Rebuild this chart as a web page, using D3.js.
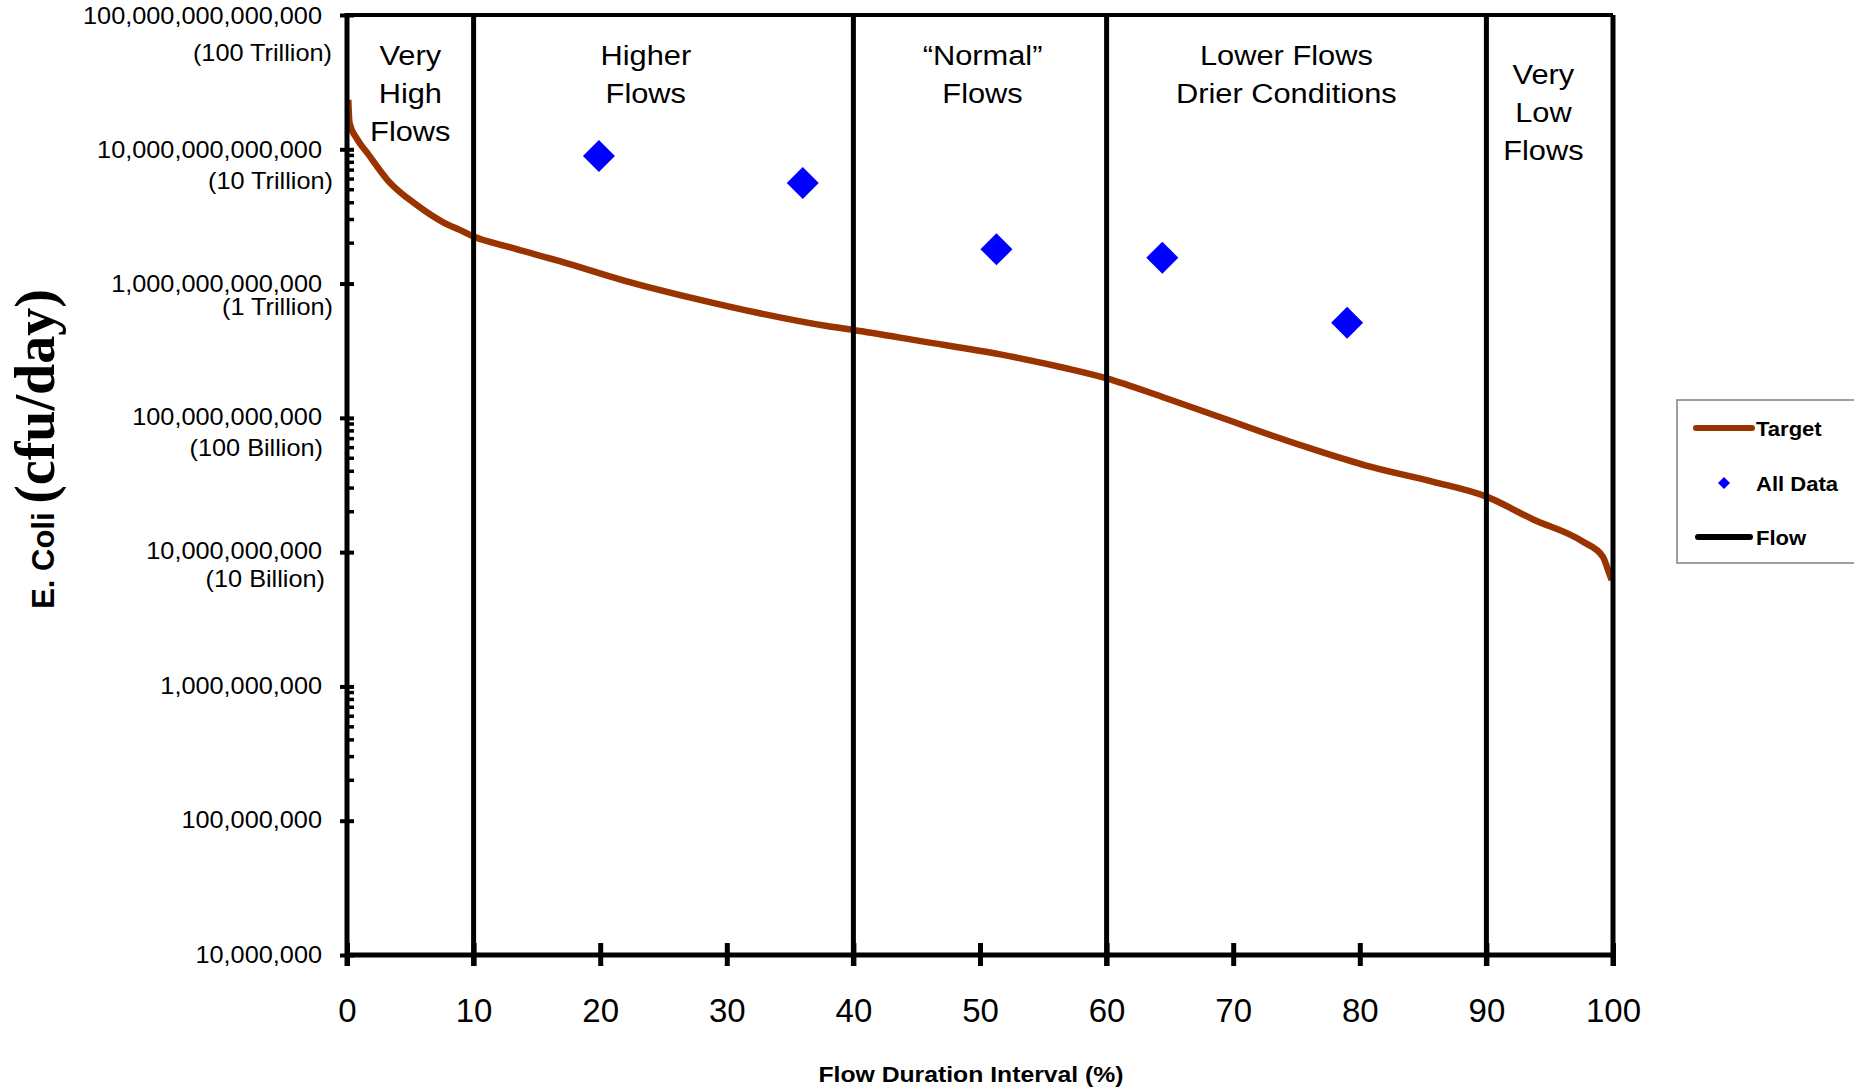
<!DOCTYPE html>
<html><head><meta charset="utf-8">
<script src="https://cdn.jsdelivr.net/npm/d3@7"></script>
<style>body{margin:0;background:#fff}svg{display:block}</style>
</head><body>
<svg id="chart" width="1854" height="1088"></svg>
<script>
// ---------------- DATA ----------------
const flowPct = [0.1, 0.2, 0.8, 1.6, 3.2, 5.5, 7.6, 8.9, 10, 12.9, 16.8, 22.1, 27.4, 32.6, 37.9, 40, 45.3, 51.6, 56.8, 60, 64.7, 70, 72.6, 76.9, 80.5, 85.8, 90, 93.7, 97.6, 99.2, 99.7, 99.9];
const targetLoad = [2.33e13, 1.57e13, 1.19e13, 9.4e12, 5.9e12, 3.85e12, 2.86e12, 2.51e12, 2.24e12, 1.86e12, 1.47e12, 1.04e12, 7.76e11, 6.01e11, 4.83e11, 4.51e11, 3.73e11, 2.97e11, 2.34e11, 1.97e11, 1.4e11, 9.35e10, 7.64e10, 5.6e10, 4.41e10, 3.34e10, 2.59e10, 1.75e10, 1.2e10, 9.25e9, 6.95e9, 6.2e9];
const dataPct = [19.9, 36.0, 51.3, 64.4, 79.0];
const dataLoad = [8.9e12, 5.6e12, 1.8e12, 1.56e12, 5.1e11];
const xTickValues = [0, 10, 20, 30, 40, 50, 60, 70, 80, 90, 100];
const zoneBounds = [10, 40, 60, 90, 100];
const zoneLabels = [["Very", "High", "Flows"], ["Higher", "Flows"], ["\u201CNormal\u201D", "Flows"], ["Lower Flows", "Drier Conditions"], ["Very", "Low", "Flows"]];
const zoneLabelPct = [5, 23.6, 50.2, 74.2, 94.5];
const yTickValues = [1e7, 1e8, 1e9, 1e10, 1e11, 1e12, 1e13, 1e14];
const yTickLabels = ["10,000,000", "100,000,000", "1,000,000,000", "10,000,000,000", "100,000,000,000", "1,000,000,000,000", "10,000,000,000,000", "100,000,000,000,000"];
const ySubLabels = ["", "", "", "(10 Billion)", "(100 Billion)", "(1 Trillion)", "(10 Trillion)", "(100 Trillion)"];
const minorDecades = [1e8, 1e10, 1e12];
const legendLabels = ["Target", "All Data", "Flow"];

// ---------------- LAYOUT ----------------
const L = 347, R = 1613, T = 15, B = 955;
const svg = d3.select("#chart");
const x = d3.scaleLinear().domain([0, 100]).range([L, R]);
const y = d3.scaleLog().domain([1e7, 1e14]).range([B, T]);
const SX = 1.1; // horizontal stretch of text in reference
const sans = "Arial, 'Liberation Sans', Helvetica, sans-serif";
const serif = "'Times New Roman', 'Liberation Serif', serif";

// Target curve
const curve = flowPct.map((p, i) => [p, targetLoad[i]]);
svg.append("path").datum(curve)
  .attr("fill", "none").attr("stroke", "#993300").attr("stroke-width", 6.5)
  .attr("stroke-linejoin", "round")
  .attr("d", d3.line().x(d => x(d[0])).y(d => y(d[1])).curve(d3.curveMonotoneX));

// Top border
svg.append("line").attr("x1", x(0)).attr("x2", x(100)).attr("y1", y(1e14)).attr("y2", y(1e14))
  .attr("stroke", "#000").attr("stroke-width", 4);

// Zone (flow) lines
svg.selectAll("line.zone").data(zoneBounds).enter().append("line").attr("class", "zone")
  .attr("x1", d => x(d)).attr("x2", d => x(d)).attr("y1", y(1e14)).attr("y2", B + 11)
  .attr("stroke", "#000").attr("stroke-width", 5);

// X axis
const xAxis = d3.axisBottom(x).tickValues(xTickValues).tickSize(11).tickPadding(0).tickFormat(d3.format("d"));
const gx = svg.append("g").attr("transform", `translate(0,${B})`).call(xAxis);
gx.select(".domain").attr("stroke", "#000").attr("stroke-width", 5).attr("d", `M${L - 2},0H${R + 2}`);
gx.selectAll(".tick line").attr("y1", -12).attr("y2", 11).attr("stroke", "#000").attr("stroke-width", 5);
gx.selectAll(".tick text").attr("y", 67).attr("dy", null).attr("font-size", 33).attr("font-family", sans).attr("fill", "#000");

// Y axis
const yAxis = d3.axisLeft(y).tickValues(yTickValues).tickSize(7).tickFormat("");
const gy = svg.append("g").attr("transform", `translate(${L},0)`).call(yAxis);
gy.select(".domain").attr("stroke", "#000").attr("stroke-width", 5).attr("d", `M0,${T - 2}V${B + 11}`);
gy.selectAll(".tick line").attr("x1", -7).attr("x2", 7).attr("stroke", "#000").attr("stroke-width", 4);
gy.selectAll(".tick text").remove();
const subDy = [0, 0, 0, 34, 38, 31, 39, 45];
const firstDy = [7, 7, 7, 6, 7, 8, 8, 8];
const subX = [0, 0, 0, -22, -24, -14, -14, -15];
gy.selectAll(".tick").each(function (d, i) {
  const g = d3.select(this);
  g.append("text").text(yTickLabels[i])
    .attr("transform", `translate(-25,${firstDy[i]}) scale(${SX},1)`)
    .attr("text-anchor", "end").attr("font-size", 23).attr("font-family", sans).attr("fill", "#000");
  if (ySubLabels[i]) {
    g.append("text").text(ySubLabels[i])
      .attr("transform", `translate(${subX[i]},${subDy[i]}) scale(${SX},1)`)
      .attr("text-anchor", "end").attr("font-size", 23).attr("font-family", sans).attr("fill", "#000");
  }
});
// minor ticks
const minors = [];
minorDecades.forEach(d => { for (let k = 2; k <= 9; k++) minors.push(d * k); });
svg.selectAll("line.minor").data(minors).enter().append("line").attr("class", "minor")
  .attr("x1", L).attr("x2", L + 7).attr("y1", d => y(d)).attr("y2", d => y(d))
  .attr("stroke", "#000").attr("stroke-width", 3.5);

// Zone labels
zoneLabels.forEach((lines, i) => {
  const base = i === 4 ? 84 : 65;
  lines.forEach((t, j) => {
    svg.append("text").text(t)
      .attr("transform", `translate(${x(zoneLabelPct[i])},${base + j * 38}) scale(${SX},1)`)
      .attr("text-anchor", "middle").attr("font-size", 28).attr("font-family", sans).attr("fill", "#000");
  });
});

// Data diamonds
const diamond = d3.symbol().type(d3.symbolSquare).size(512);
svg.selectAll("path.pt").data(dataPct.map((p, i) => [p, dataLoad[i]])).enter().append("path").attr("class", "pt")
  .attr("d", diamond).attr("fill", "#0000ff")
  .attr("transform", d => `translate(${x(d[0])},${y(d[1])}) rotate(45)`);

// Axis titles
svg.append("text").text("Flow Duration Interval (%)")
  .attr("transform", `translate(971,1082) scale(${SX},1)`)
  .attr("text-anchor", "middle").attr("font-size", 22.5).attr("font-weight", "bold").attr("font-family", sans);
const yt = svg.append("text").attr("transform", "translate(54,449) rotate(-90)").attr("text-anchor", "middle");
yt.append("tspan").text("E. Coli ").attr("font-family", sans).attr("font-weight", "bold").attr("font-size", 31);
yt.append("tspan").text("(cfu/day)").attr("font-family", serif).attr("font-weight", "bold").attr("font-size", 56);

// Legend
const lg = svg.append("g").attr("transform", "translate(1677,400)");
lg.append("rect").attr("x", 0).attr("y", 0).attr("width", 200).attr("height", 163)
  .attr("fill", "#fff").attr("stroke", "#808080").attr("stroke-width", 1.5);
const legendY = [28, 83, 137];
lg.append("line").attr("x1", 19).attr("x2", 75).attr("y1", legendY[0]).attr("y2", legendY[0])
  .attr("stroke", "#993300").attr("stroke-width", 6).attr("stroke-linecap", "round");
lg.append("path").attr("d", d3.symbol().type(d3.symbolSquare).size(72)).attr("fill", "#0000ff")
  .attr("transform", `translate(47,${legendY[1]}) rotate(45)`);
lg.append("line").attr("x1", 21).attr("x2", 73).attr("y1", legendY[2]).attr("y2", legendY[2])
  .attr("stroke", "#000").attr("stroke-width", 6).attr("stroke-linecap", "round");
legendLabels.forEach((t, i) => {
  lg.append("text").text(t).attr("transform", `translate(79,${legendY[i] + 8}) scale(1.05,1)`)
    .attr("font-size", 21).attr("font-weight", "bold").attr("font-family", sans).attr("fill", "#000");
});
</script>
</body></html>
